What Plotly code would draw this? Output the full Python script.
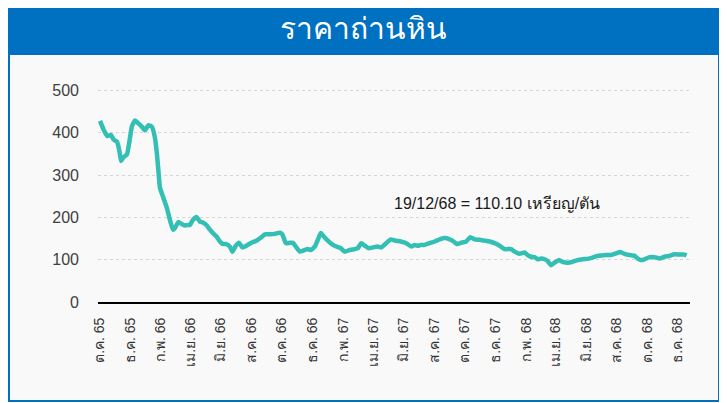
import plotly.graph_objects as go

# ---- data ----
dates = [
    "2022-10-02", "2022-10-09", "2022-10-17", "2022-10-24", "2022-10-29", "2022-11-05", "2022-11-10",
    "2022-11-13", "2022-11-18", "2022-11-25", "2022-11-30", "2022-12-05", "2022-12-11", "2022-12-18",
    "2022-12-25", "2022-12-31", "2023-01-07", "2023-01-14", "2023-01-20", "2023-01-24", "2023-01-27",
    "2023-01-30", "2023-02-06", "2023-02-13", "2023-02-19", "2023-02-25", "2023-03-01", "2023-03-08",
    "2023-03-15", "2023-03-21", "2023-03-28", "2023-03-31", "2023-04-06", "2023-04-13", "2023-04-20",
    "2023-04-26", "2023-05-03", "2023-05-10", "2023-05-16", "2023-05-23", "2023-05-30", "2023-06-05",
    "2023-06-12", "2023-06-19", "2023-06-24", "2023-07-01", "2023-07-07", "2023-07-14", "2023-07-22",
    "2023-08-01", "2023-08-11", "2023-08-21", "2023-08-28", "2023-09-07", "2023-09-17", "2023-09-27",
    "2023-10-02", "2023-10-09", "2023-10-17", "2023-10-23", "2023-10-29", "2023-11-06", "2023-11-16",
    "2023-11-22", "2023-11-29", "2023-12-07", "2023-12-12", "2023-12-18", "2023-12-24", "2024-01-01",
    "2024-01-09", "2024-01-18", "2024-01-27", "2024-02-04", "2024-02-14", "2024-02-24", "2024-03-01",
    "2024-03-08", "2024-03-15", "2024-03-23", "2024-03-31", "2024-04-09", "2024-04-17", "2024-04-27",
    "2024-05-06", "2024-05-15", "2024-05-26", "2024-06-06", "2024-06-16", "2024-06-23", "2024-06-29",
    "2024-07-06", "2024-07-13", "2024-07-23", "2024-08-02", "2024-08-12", "2024-08-22", "2024-09-01",
    "2024-09-09", "2024-09-15", "2024-09-24", "2024-10-04", "2024-10-12", "2024-10-21", "2024-10-31",
    "2024-11-10", "2024-11-20", "2024-11-30", "2024-12-10", "2024-12-20", "2025-01-02", "2025-01-09",
    "2025-01-19", "2025-01-29", "2025-02-04", "2025-02-11", "2025-02-18", "2025-02-24", "2025-03-03",
    "2025-03-10", "2025-03-16", "2025-03-23", "2025-03-30", "2025-04-07", "2025-04-15", "2025-04-25",
    "2025-05-05", "2025-05-15", "2025-05-25", "2025-06-04", "2025-06-14", "2025-06-24", "2025-07-01",
    "2025-07-11", "2025-07-21", "2025-07-31", "2025-08-08", "2025-08-17", "2025-08-27", "2025-09-06",
    "2025-09-12", "2025-09-19", "2025-09-26", "2025-10-06", "2025-10-16", "2025-10-26", "2025-11-05",
    "2025-11-15", "2025-11-25", "2025-12-05", "2025-12-15", "2025-12-19",
]
prices = [
    428, 408, 392, 395, 384, 379, 356,
    333, 342, 349, 380, 416, 429, 422,
    414, 406, 418, 414, 388, 349, 309,
    270, 246, 222, 194, 171, 175, 189,
    184, 181, 182, 182, 194, 201, 190,
    188, 182, 171, 163, 155, 143, 137,
    137, 131, 119, 133, 140, 129, 133,
    140, 145, 153, 160, 160, 161, 164,
    160, 139, 140, 140, 131, 119, 123,
    125, 123, 133, 147, 163, 155, 145,
    137, 131, 127, 119, 123, 125, 127,
    139, 133, 127, 129, 131, 129, 139,
    148, 145, 143, 139, 131, 135, 133,
    135, 135, 139, 143, 148, 151, 148,
    143, 137, 140, 143, 153, 148, 147,
    145, 143, 139, 133, 125, 125, 119,
    114, 117, 111, 107, 106, 101, 103,
    101, 97, 87, 93, 99, 95, 93,
    95, 99, 101, 102, 105, 109, 110,
    111, 111, 115, 118, 114, 111, 109,
    103, 99, 101, 106, 106, 103, 107,
    109, 113, 112, 112, 110.10,
]

tick_dates = [
    "2022-10-01", "2022-12-01", "2023-02-01", "2023-04-01", "2023-06-01", "2023-08-01", "2023-10-01",
    "2023-12-01", "2024-02-01", "2024-04-01", "2024-06-01", "2024-08-01", "2024-10-01", "2024-12-01",
    "2025-02-01", "2025-04-01", "2025-06-01", "2025-08-01", "2025-10-01", "2025-12-01",
]
tick_labels = [
    "ต.ค. 65", "ธ.ค. 65", "ก.พ. 66", "เม.ย. 66", "มิ.ย. 66", "ส.ค. 66", "ต.ค. 66",
    "ธ.ค. 66", "ก.พ. 67", "เม.ย. 67", "มิ.ย. 67", "ส.ค. 67", "ต.ค. 67", "ธ.ค. 67",
    "ก.พ. 68", "เม.ย. 68", "มิ.ย. 68", "ส.ค. 68", "ต.ค. 68", "ธ.ค. 68",
]
y_ticks = [0, 100, 200, 300, 400, 500]

title_text = "ราคาถ่านหิน"
note_text = "19/12/68 = 110.10 เหรียญ/ตัน"

# ---- layout geometry ----
# The page body has an 8px margin, so the figure is drawn 8px in from the
# window corner; work in window pixels and shift by OFF.
OFF = 8
WIN_W, WIN_H = 727, 403
W, H = WIN_W - OFF, WIN_H - OFF
PLOT_X0, PLOT_X1 = 98, 690      # window px
PLOT_Y0, PLOT_Y1 = 82, 302      # window px (top, bottom)
L = PLOT_X0 - OFF
R = (WIN_W - PLOT_X1)
T = PLOT_Y0 - OFF
B = (WIN_H - PLOT_Y1)
PW, PH = PLOT_X1 - PLOT_X0, PLOT_Y1 - PLOT_Y0


def px(x):
    return (x - PLOT_X0) / PW


def py(y):
    return (PLOT_Y1 - y) / PH


BLUE = "#0070c0"
FONT = "Liberation Sans, Arial, Noto Sans, sans-serif"

fig = go.Figure()
fig.add_trace(go.Scatter(
    x=dates, y=prices, mode="lines",
    line=dict(color="#33bfb4", width=4.5, shape="spline", smoothing=0.4),
    hoverinfo="skip", showlegend=False,
))

fig.update_layout(
    width=W, height=H,
    margin=dict(l=L, r=R, t=T, b=B, pad=0),
    paper_bgcolor="white",
    plot_bgcolor="rgba(0,0,0,0)",
    showlegend=False,
    xaxis=dict(
        type="date",
        range=["2022-09-28", "2025-12-26"],
        tickmode="array", tickvals=tick_dates, ticktext=tick_labels,
        tickangle=-90,
        tickfont=dict(family=FONT, size=14, color="#333333"),
        showgrid=False, zeroline=False,
        showline=True, linecolor="black", linewidth=2,
        ticks="", ticklabelstandoff=8,
    ),
    yaxis=dict(
        range=[0, 520],
        tickmode="array", tickvals=y_ticks,
        tickfont=dict(family=FONT, size=16, color="#404040"),
        showgrid=True, gridcolor="#d6d6d6", griddash="dot", gridwidth=1,
        zeroline=False, showline=False,
        ticks="", ticklabelstandoff=18,
    ),
    shapes=[
        # chart frame
        dict(type="rect", xref="paper", yref="paper", layer="below",
             x0=px(9), x1=px(719), y0=py(401), y1=py(54),
             fillcolor="#f9f9f9", line=dict(color=BLUE, width=2)),
        # title bar
        dict(type="rect", xref="paper", yref="paper", layer="above",
             x0=px(7), x1=px(720), y0=py(54), y1=py(2),
             fillcolor=BLUE, line=dict(width=0)),
    ],
    annotations=[
        dict(text=title_text, xref="paper", yref="paper", x=px(363), y=py(29),
             xanchor="center", yanchor="middle", showarrow=False,
             font=dict(family=FONT, size=30, color="white")),
        dict(text=note_text, xref="paper", yref="paper", x=px(497), y=py(204),
             xanchor="center", yanchor="middle", showarrow=False,
             font=dict(family=FONT, size=16, color="#1a1a1a")),
    ],
)

fig.write_html("out.html")
